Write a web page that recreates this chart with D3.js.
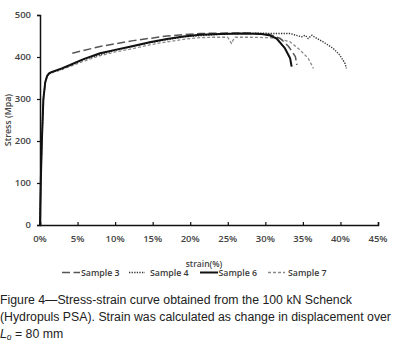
<!DOCTYPE html>
<html><head><meta charset="utf-8">
<script src="https://cdn.jsdelivr.net/npm/d3@7"></script>
<style>
body{margin:0;background:#fff;}
svg{display:block;}
</style></head>
<body>
<svg id="c" width="400" height="360"></svg>
<script>
const xTicks = [0,5,10,15,20,25,30,35,40,45];
const yTicks = [0,100,200,300,400,500];
const seriesNames = ["Sample 3","Sample 4","Sample 6","Sample 7"];

const strain3 = [4.3,8,12.4,16.9,21.3,25,28,30.5,32,33.1,34,34.2];
const stress3 = [409,425,439,450,456,457,457,454,444,425,401,381];

const strain4 = [0,0.1,0.25,0.45,0.7,0.95,1.2,1.5,2.9,5.8,10,14.6,19.1,23,26,29,31,33.3,34.8,35.3,35.7,36.2,36.6,37.7,39,39.9,40.6,40.8];
const stress4 = [0,100,200,300,340,355,360,363,371,394,416,434,448,453,456,457,456,456,448,452,444,452,447,436,421,405,385,373];

const strain6 = [0,0.1,0.25,0.45,0.7,0.95,1.2,1.5,2.9,4,5.8,8,10,12.4,14.6,16.9,19.1,21.3,24,27,29.5,30.5,31.5,32.6,33.3,33.5];
const stress6 = [0,100,200,300,340,355,361,364,373,381,395,409,417,426,435,443,449,453,455,456,455,452,444,421,397,377];

const strain7 = [0,0.1,0.25,0.45,0.7,0.95,1.2,1.5,2.9,5.8,8,10,12.4,14.6,16.9,19.1,21.3,23,25,25.3,25.5,25.7,26,28,30.6,31.9,33.3,34.6,35.7,36.4];
const stress7 = [0,95,195,295,338,353,359,362,370,390,403,412,420,429,436,442,446,447,447,438,432,440,447,447,446,443,436,417,397,373];

const captionLines = [
  "Figure 4\u2014Stress-strain curve obtained from the 100 kN Schenck",
  "(Hydropuls PSA). Strain was calculated as change in displacement over"
];

const svg = d3.select("#c");
const x = d3.scaleLinear().domain([0,45]).range([40,378]);
const y = d3.scaleLinear().domain([0,500]).range([225,15]);

const styles = [
  {color:"#555", width:1.5, dash:"8,3.5"},
  {color:"#333", width:1.4, dash:"1.3,1.3"},
  {color:"#111", width:2, dash:null},
  {color:"#8a8a8a", width:1.3, dash:"3,2"}
];
const data = [
  strain3.map((s,i)=>[s,stress3[i]]),
  strain4.map((s,i)=>[s,stress4[i]]),
  strain6.map((s,i)=>[s,stress6[i]]),
  strain7.map((s,i)=>[s,stress7[i]])
];

const line = d3.line().x(d=>x(d[0])).y(d=>y(d[1])).curve(d3.curveLinear);
const drawOrder = [3,1,0,2];
drawOrder.forEach(i=>{
  svg.append("path").attr("d", line(data[i]))
    .attr("fill","none").attr("stroke",styles[i].color)
    .attr("stroke-width",styles[i].width)
    .attr("stroke-linejoin","round")
    .attr("stroke-dasharray",styles[i].dash);
});

const tickFont = "'Open Sans', sans-serif";
// axes
const xAxis = svg.append("g").attr("transform","translate(0,225)")
  .call(d3.axisTop(x).tickValues(xTicks).tickSize(3).tickFormat(""));
xAxis.select(".domain").attr("stroke","#111").attr("stroke-width",1.5);
xAxis.selectAll(".tick line").attr("stroke","#111").attr("stroke-width",1.2);
svg.append("g").selectAll("text").data(xTicks).join("text")
  .attr("x",d=>x(d)).attr("y",241.5).attr("text-anchor","middle")
  .attr("font-family",tickFont).attr("font-size",9.5).attr("font-weight",600).attr("fill","#444")
  .text(d=>d+"%");

const yAxis = svg.append("g").attr("transform","translate(40,0)")
  .call(d3.axisLeft(y).tickValues(yTicks).tickSize(3).tickFormat(""));
yAxis.select(".domain").attr("stroke","#111").attr("stroke-width",1.5);
yAxis.selectAll(".tick line").attr("stroke","#111").attr("stroke-width",1.2);
svg.append("g").selectAll("text").data(yTicks).join("text")
  .attr("x",31).attr("y",d=>y(d)+3.3).attr("text-anchor","end")
  .attr("font-family",tickFont).attr("font-size",9.5).attr("font-weight",600).attr("fill","#444")
  .text(d=>d);

svg.append("text").attr("transform","translate(11,120) rotate(-90)")
  .attr("text-anchor","middle").attr("font-family",tickFont).attr("font-size",8.8)
  .attr("font-weight",600).attr("fill","#444").text("Stress (Mpa)");
svg.append("text").attr("x",204).attr("y",267).attr("text-anchor","middle")
  .attr("font-family",tickFont).attr("font-size",8.5).attr("font-weight",600).attr("fill","#444")
  .text("strain(%)");

// legend
const legX1 = [62,129,200,268];
const legX2 = [80,145,218,285];
const legT = [81,150,218.5,288];
seriesNames.forEach((n,i)=>{
  svg.append("line").attr("x1",legX1[i]).attr("x2",legX2[i])
    .attr("y1",272.5).attr("y2",272.5)
    .attr("stroke",styles[i].color).attr("stroke-width",styles[i].width)
    .attr("stroke-dasharray",styles[i].dash);
  svg.append("text").attr("x",legT[i]).attr("y",275.7)
    .attr("font-family",tickFont).attr("font-size",8.8).attr("font-weight",600).attr("fill","#3a3a3a")
    .text(n);
});

// caption
const capFont = "'Liberation Sans', Arial, sans-serif";
captionLines.forEach((t,i)=>{
  svg.append("text").attr("x",0).attr("y",304+i*17)
    .attr("font-family",capFont).attr("font-size",12.3).attr("fill","#222").text(t);
});
const l3 = svg.append("text").attr("x",0).attr("y",338)
  .attr("font-family",capFont).attr("font-size",12.3).attr("fill","#222");
l3.append("tspan").attr("font-style","italic").text("L");
l3.append("tspan").attr("font-style","italic").attr("font-size",8.5).attr("dy",2).text("o");
l3.append("tspan").attr("dy",-2).text(" = 80 mm");
</script>
</body></html>
